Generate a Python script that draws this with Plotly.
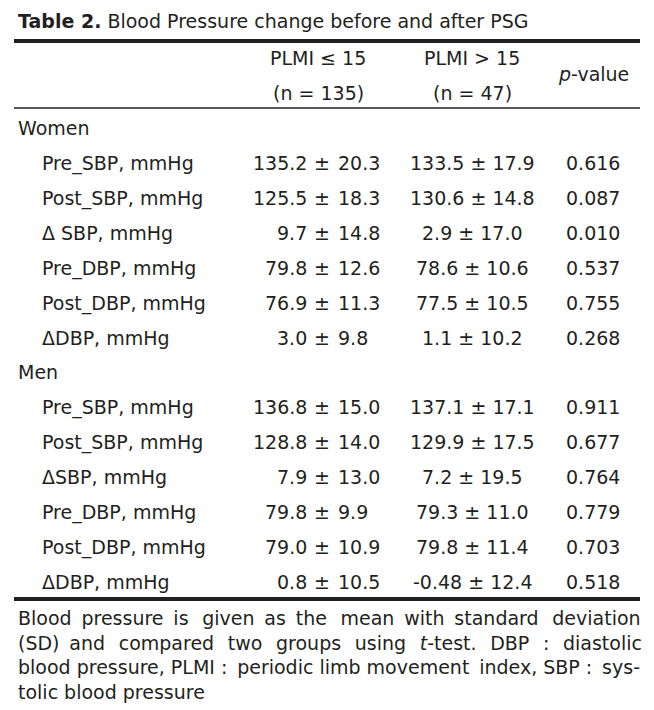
import plotly.graph_objects as go

# ---------------- data ----------------
title_bold = "Table 2."
title_rest = " Blood Pressure change before and after PSG"
col_headers_1 = ["PLMI ≤ 15", "PLMI > 15"]
col_headers_2 = ["(n = 135)", "(n = 47)"]
p_header = "p-value"

groups = ["Women", "Men"]
women_labels = ["Pre_SBP, mmHg", "Post_SBP, mmHg", "Δ SBP, mmHg",
                "Pre_DBP, mmHg", "Post_DBP, mmHg", "ΔDBP, mmHg"]
women_low_mean = ["135.2", "125.5", "9.7", "79.8", "76.9", "3.0"]
women_low_sd = ["20.3", "18.3", "14.8", "12.6", "11.3", "9.8"]
women_high_mean = ["133.5", "130.6", "2.9", "78.6", "77.5", "1.1"]
women_high_sd = ["17.9", "14.8", "17.0", "10.6", "10.5", "10.2"]
women_p = ["0.616", "0.087", "0.010", "0.537", "0.755", "0.268"]

men_labels = ["Pre_SBP, mmHg", "Post_SBP, mmHg", "ΔSBP, mmHg",
              "Pre_DBP, mmHg", "Post_DBP, mmHg", "ΔDBP, mmHg"]
men_low_mean = ["136.8", "128.8", "7.9", "79.8", "79.0", "0.8"]
men_low_sd = ["15.0", "14.0", "13.0", "9.9", "10.9", "10.5"]
men_high_mean = ["137.1", "129.9", "7.2", "79.3", "79.8", "-0.48"]
men_high_sd = ["17.1", "17.5", "19.5", "11.0", "11.4", "12.4"]
men_p = ["0.911", "0.677", "0.764", "0.779", "0.703", "0.518"]

footnote_lines = [
    "Blood pressure is given as the mean with standard deviation",
    "(SD) and compared two groups using <i>t</i>-test. DBP : diastolic",
    "blood pressure, PLMI : periodic limb movement index, SBP : sys-",
    "tolic blood pressure",
]
# number of thin spaces added between words to imitate justified text
footnote_extra_thin = [12, 17, 3, 0]

# ---------------- drawing ----------------
FONT = "DejaVu Sans"
FS = 19
COL = "#231f20"

fig = go.Figure()
ann = []

def txt(x, y, t, anchor="left", size=FS):
    ann.append(dict(x=x, y=y, xref="x", yref="y", text=t, showarrow=False,
                    xanchor=anchor, yanchor="middle",
                    font=dict(family=FONT, size=size, color=COL)))

# title
txt(16, 21, f"<b>{title_bold}</b>{title_rest}")

# header
txt(318, 58, col_headers_1[0], "center")
txt(472, 58, col_headers_1[1], "center")
txt(318, 93, col_headers_2[0], "center")
txt(472, 93, col_headers_2[1], "center")
txt(593, 74, "<i>p</i>-value", "center")

def block(y0, group, labels, lm, ls, hm, hs, pv):
    txt(16, y0, group)
    for i in range(len(labels)):
        y = y0 + 35 * (i + 1)
        txt(40, y, labels[i])
        txt(309, y, lm[i], "right")
        txt(322, y, "±", "center")
        txt(336, y, ls[i], "left")
        txt(472, y, f"{hm[i]} ± {hs[i]}", "center")
        txt(593, y, pv[i], "center")

block(128, groups[0], women_labels, women_low_mean, women_low_sd,
      women_high_mean, women_high_sd, women_p)
block(372, groups[1], men_labels, men_low_mean, men_low_sd,
      men_high_mean, men_high_sd, men_p)

def justify(line, n_extra):
    words = line.split(" ")
    gaps = len(words) - 1
    out = words[0]
    for j, w in enumerate(words[1:]):
        k = (n_extra * (j + 1)) // gaps - (n_extra * j) // gaps
        out += " " + "\u2009" * k + w
    return out

foot_y = [618, 643, 667, 692]
for i, line in enumerate(footnote_lines):
    txt(16, foot_y[i], justify(line, footnote_extra_thin[i]))

shapes = [
    dict(type="line", x0=14, x1=640, y0=41, y1=41, xref="x", yref="y",
         line=dict(color=COL, width=4)),
    dict(type="line", x0=14, x1=640, y0=108, y1=108, xref="x", yref="y",
         line=dict(color=COL, width=1.3)),
    dict(type="line", x0=14, x1=640, y0=599, y1=599, xref="x", yref="y",
         line=dict(color=COL, width=4)),
]

# page body has an 8px margin; size and range compensate so that
# axis units equal page pixels
fig.update_layout(
    width=646, height=702,
    margin=dict(l=0, r=0, t=0, b=0),
    paper_bgcolor="white", plot_bgcolor="white",
    xaxis=dict(range=[8, 654], visible=False, fixedrange=True),
    yaxis=dict(range=[710, 8], visible=False, fixedrange=True),
    annotations=ann, shapes=shapes, showlegend=False,
)

fig.write_html("out.html")
